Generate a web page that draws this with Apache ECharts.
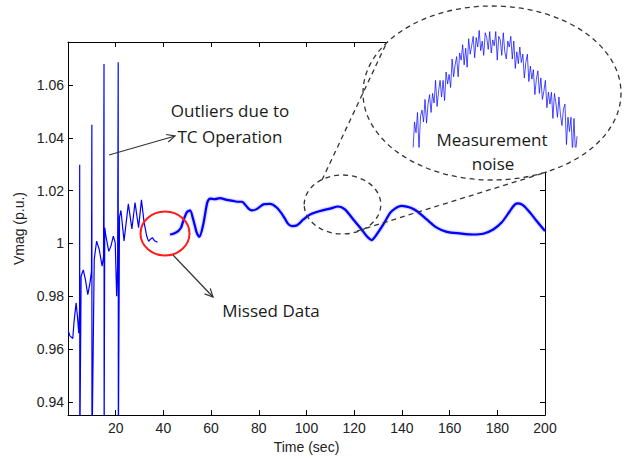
<!DOCTYPE html>
<html>
<head>
<meta charset="utf-8">
<script src="https://cdn.jsdelivr.net/npm/echarts@6/dist/echarts.min.js"></script>
<style>
    html, body { margin: 0; padding: 0; background: #fff; }
    #chart { width: 632px; height: 459px; }
</style>
</head>
<body>
<div id="chart"></div>
<script>
// early part: oscillations + TC outlier spikes (sec, p.u.)
const earlyTime = [0.1, 0.8, 2.0, 2.5, 3.4, 4.0, 4.5, 4.85, 4.9, 4.95,
    5.5, 6.4, 7.3, 8.3, 9.2, 9.85, 10.0, 10.05, 11.0, 12.0,
    13.1, 14.3, 14.9, 15.1, 15.15, 15.4, 15.9, 17.1, 18.0, 19.0,
    19.8, 20.4, 20.8, 21.05, 21.1, 21.6, 22.2, 23.5, 25.3, 26.8,
    28.1, 29.6, 30.8, 31.9, 33.0, 33.8, 34.4, 35.4, 36.3, 37.5];
const earlyVmag = [0.967, 0.965, 0.964, 0.970, 0.9775, 0.972, 0.966, 0.975, 1.0298, 0.92,
    0.9876, 0.990, 0.9863, 0.9806, 0.985, 0.9895, 1.045, 0.92, 0.9939, 1.0009,
    0.9977, 0.9914, 0.995, 1.068, 0.92, 1.006, 1.0028, 0.997, 0.999, 1.0028,
    1.0003, 0.980, 0.992, 1.0686, 0.92, 1.010, 1.0125, 1.001, 1.015, 1.0055,
    1.0155, 1.006, 1.0165, 1.008, 1.0028, 1.0008, 1.0015, 1.0022, 1.001, 1.0005];

// after the missed data gap
const lateTime = [42.8, 43.8, 44.9, 46.2, 47.4, 48.3, 49.8, 51.2, 52.5, 54.0,
    55.1, 56.7, 58.4, 59.5, 61.6, 63.7, 66.5, 69.3, 71.4, 73.0,
    74.2, 75.7, 77.0, 79.1, 81.9, 84.7, 87.5, 90.3, 92.2, 93.8,
    95.9, 98.7, 101.5, 105.7, 109.9, 113.3, 116.1, 119.6, 123.1, 125.2,
    127.3, 129.4, 132.2, 135.0, 137.1, 139.9, 143.4, 146.2, 150.4, 154.6,
    158.8, 164.4, 169.9, 174.1, 178.3, 181.8, 185.3, 187.4, 188.8, 190.9,
    193.7, 196.5, 200];
const lateVmag = [1.0034, 1.0036, 1.004, 1.0047, 1.006, 1.0085, 1.0118, 1.0125, 1.0091, 1.004,
    1.0025, 1.0072, 1.0155, 1.017, 1.0168, 1.0172, 1.0165, 1.0161, 1.0158, 1.0158,
    1.0148, 1.0132, 1.0125, 1.013, 1.0148, 1.015, 1.0136, 1.0104, 1.0075, 1.0066,
    1.0068, 1.0091, 1.011, 1.0123, 1.0132, 1.014, 1.0129, 1.0091, 1.0053, 1.0028,
    1.0013, 1.0034, 1.0072, 1.0115, 1.0132, 1.0142, 1.0136, 1.0123, 1.0091, 1.006,
    1.0044, 1.0038, 1.0034, 1.0037, 1.0053, 1.0079, 1.0123, 1.0148, 1.0152, 1.0144,
    1.0117, 1.0085, 1.0047];

// zoomed view of the noisy hump (inset, arbitrary units, bottom is cut at 0)
const noiseVals = [-3, 21, 12, 29, -2, 26, 31, 21, 40, 20,
    36, 44, 29, 45, 37, 56, 34, 47, 56, 42,
    56, 39, 63, 53, 61, 50, 74, 59, 69, 76,
    59, 79, 73, 86, 69, 83, 67, 91, 78, 85,
    93, 75, 92, 84, 98, 81, 89, 77, 96, 92,
    82, 97, 79, 90, 85, 97, 73, 93, 90, 77,
    96, 80, 74, 89, 84, 93, 74, 89, 66, 80,
    70, 84, 71, 78, 58, 71, 78, 55, 68, 57,
    65, 44, 57, 64, 45, 58, 40, 47, 56, 33,
    46, 36, 46, 24, 45, 37, 25, 42, 27, 18,
    32, 36, 2, 25, 13, 25, -4, 24, -6, 9];

const xTicks = [20, 40, 60, 80, 100, 120, 140, 160, 180, 200];
const yTicks = [0.94, 0.96, 0.98, 1, 1.02, 1.04, 1.06];

const zip = (a, b) => a.map((v, i) => [v, b[i]]);

const chart = echarts.init(document.getElementById("chart"), null, { renderer: "svg" });

const labelFont = { color: "#222", fontSize: 14, fontFamily: "Liberation Sans" };
const noteFont = "17px 'Open Sans'";
const axisLine = { show: true, onZero: false, lineStyle: { color: "#000", width: 1 } };

function arrow(x1, y1, x2, y2) {
    const a = Math.atan2(y2 - y1, x2 - x1);
    const len = 9, spread = 0.45;
    const stroke = { stroke: "#333", lineWidth: 1.2, fill: null };
    return [
        { type: "line", z: 100, shape: { x1, y1, x2, y2 }, style: stroke },
        {
            type: "polyline", z: 100,
            shape: {
                points: [
                    [x2 - len * Math.cos(a - spread), y2 - len * Math.sin(a - spread)],
                    [x2, y2],
                    [x2 - len * Math.cos(a + spread), y2 - len * Math.sin(a + spread)],
                ],
            },
            style: stroke,
        },
    ];
}

function note(text, x, y) {
    return {
        type: "text", z: 120, x, y,
        style: { text, font: noteFont, fill: "#1a1a1a", align: "center", verticalAlign: "middle" },
    };
}

const dash = { stroke: "#333", lineWidth: 1.3, lineDash: [5, 4] };

const option = {
    animation: false,
    grid: [
        { left: 68, right: 87, top: 42, bottom: 42 },
        { left: 413, width: 164, top: 28, height: 119 },
    ],
    xAxis: [
        {
            gridIndex: 0, type: "value", min: 0, max: 200, position: "bottom",
            axisLine,
            axisTick: { inside: true, length: 5, customValues: xTicks, lineStyle: { color: "#000" } },
            axisLabel: { customValues: xTicks, margin: 6, ...labelFont },
            splitLine: { show: false },
            name: "Time (sec)", nameLocation: "middle", nameGap: 23,
            nameTextStyle: labelFont,
        },
        {
            gridIndex: 0, type: "value", min: 0, max: 200, position: "top",
            axisLine,
            axisTick: { inside: true, length: 5, customValues: xTicks, lineStyle: { color: "#000" } },
            axisLabel: { show: false },
            splitLine: { show: false },
        },
        { gridIndex: 1, type: "value", min: 0, max: 163.5, show: false },
    ],
    yAxis: [
        {
            gridIndex: 0, type: "value", min: 0.935, max: 1.0763, position: "left",
            axisLine,
            axisTick: { inside: true, length: 5, customValues: yTicks, lineStyle: { color: "#000" } },
            axisLabel: {
                customValues: yTicks, margin: 4, ...labelFont,
                formatter: (v) => String(+v.toFixed(2)),
            },
            splitLine: { show: false },
            name: "Vmag (p.u.)", nameLocation: "middle", nameGap: 40,
            nameTextStyle: labelFont,
        },
        {
            gridIndex: 0, type: "value", min: 0.935, max: 1.0763, position: "right",
            axisLine,
            axisTick: { inside: true, length: 5, customValues: yTicks, lineStyle: { color: "#000" } },
            axisLabel: { show: false },
            splitLine: { show: false },
        },
        { gridIndex: 1, type: "value", min: 0, max: 100, show: false },
    ],
    series: [
        {
            type: "line", xAxisIndex: 0, yAxisIndex: 0,
            data: zip(earlyTime, earlyVmag),
            showSymbol: false, clip: true,
            lineStyle: { color: "#0000ff", width: 1.2 },
        },
        {
            type: "line", xAxisIndex: 0, yAxisIndex: 0,
            data: zip(lateTime, lateVmag),
            showSymbol: false, clip: true, smooth: 0.25,
            lineStyle: { color: "#0000ff", width: 2.2, shadowColor: "rgba(0,0,255,0.45)", shadowBlur: 2 },
        },
        {
            type: "line", xAxisIndex: 2, yAxisIndex: 2, z: 110,
            data: noiseVals.map((v, i) => [i * 1.5, v]),
            showSymbol: false, clip: true,
            lineStyle: { color: "#0000ff", width: 1, opacity: 0.7 },
        },
    ],
    graphic: [
        // magnifier
        { type: "ellipse", z: 100, shape: { cx: 492, cy: 93, rx: 129, ry: 87 }, style: { ...dash, fill: "#fff" } },
        { type: "ellipse", z: 100, shape: { cx: 342.5, cy: 204.5, rx: 38.3, ry: 29.5 }, style: { ...dash, fill: null } },
        { type: "line", z: 101, shape: { x1: 322, y1: 180, x2: 387, y2: 42 }, style: dash },
        { type: "line", z: 101, shape: { x1: 357, y1: 231, x2: 547, y2: 172 }, style: dash },
        // missed data marker
        { type: "ellipse", z: 100, shape: { cx: 165, cy: 233.5, rx: 24.5, ry: 22 }, style: { stroke: "#ff1a1a", lineWidth: 2, fill: null } },
        ...arrow(109, 155, 175, 136),
        ...arrow(173, 255, 213, 297),
        note("Outliers due to", 230, 110),
        note("TC Operation", 230, 136),
        note("Measurement", 492, 139),
        note("noise", 493, 163),
        note("Missed Data", 271, 310),
    ],
};

chart.setOption(option);
</script>
</body>
</html>
